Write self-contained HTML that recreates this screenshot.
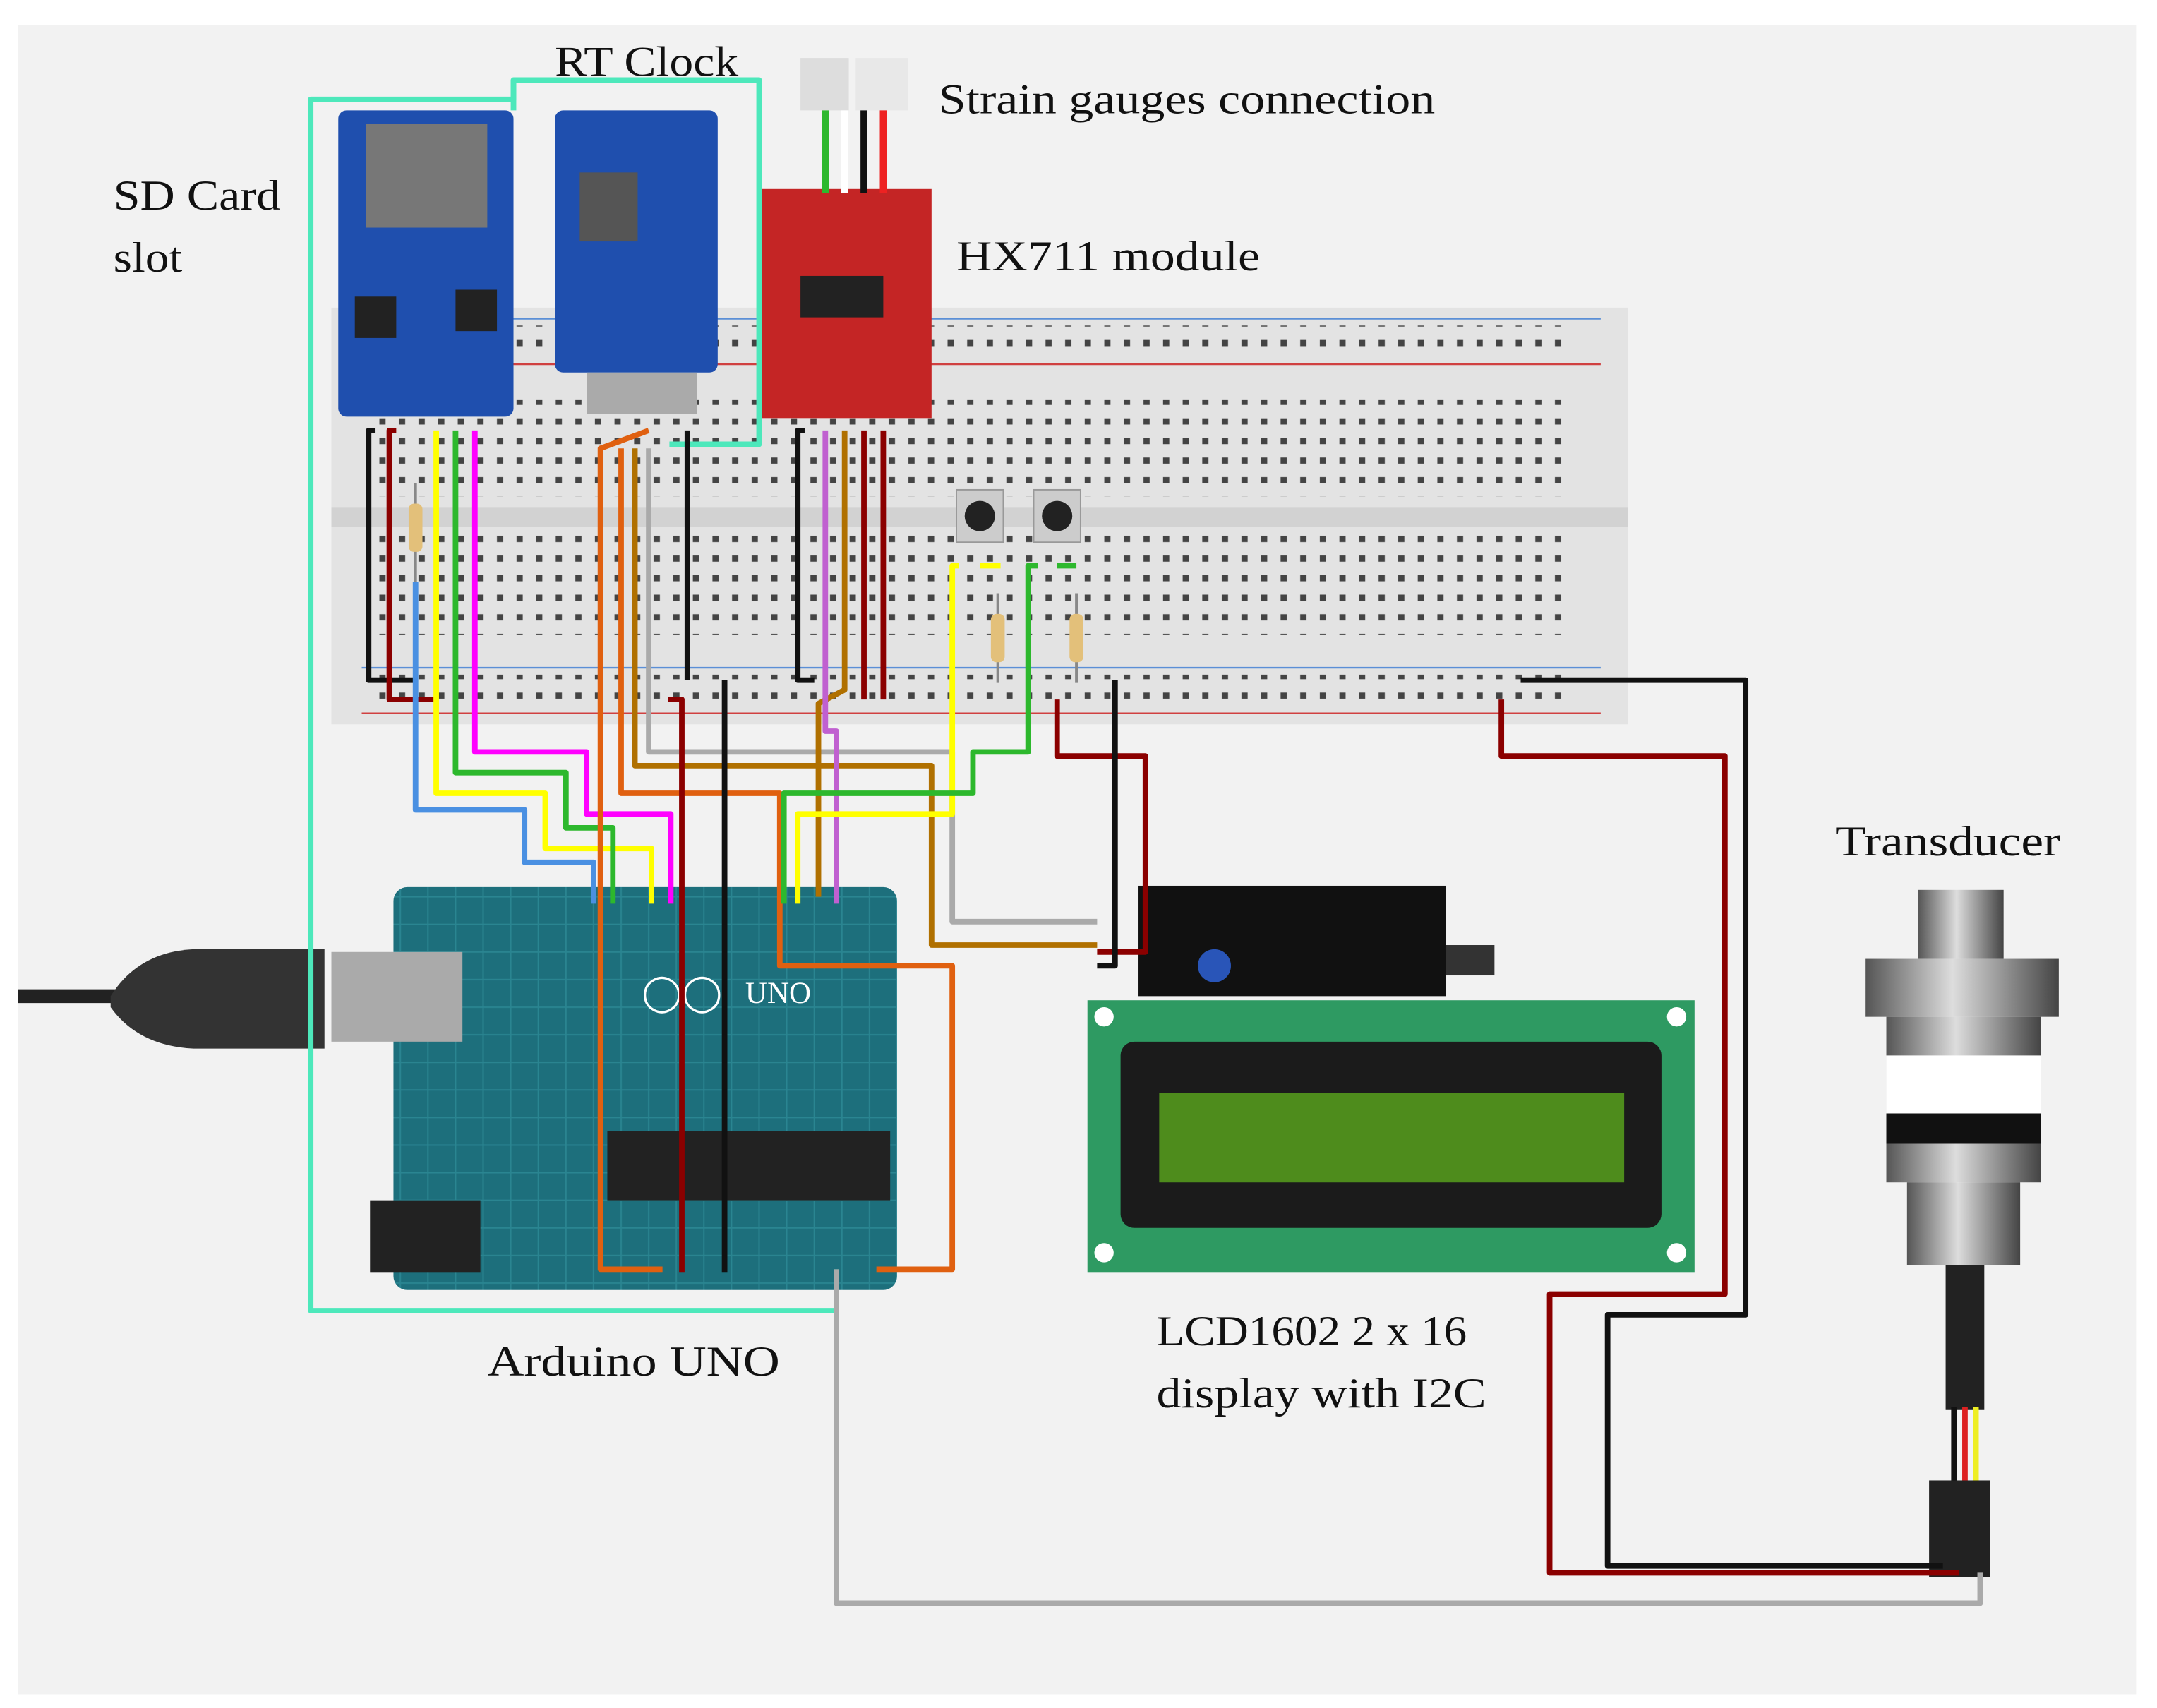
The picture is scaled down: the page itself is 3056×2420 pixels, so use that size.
<!DOCTYPE html>
<html><head><meta charset="utf-8"><style>
html,body{margin:0;padding:0;background:#fff;}
svg{display:block;}
text{font-family:"Liberation Serif",serif;fill:#111;}
</style></head><body>
<svg width="3056" height="2420" viewBox="0 0 1563 1238" xmlns="http://www.w3.org/2000/svg">
<defs>
<pattern id="holes" x="0" y="0" width="14.2" height="14.2" patternUnits="userSpaceOnUse">
<rect x="5" y="5" width="4.5" height="4.5" fill="#444"/></pattern>
<pattern id="ard" width="20" height="20" patternUnits="userSpaceOnUse">
<rect width="20" height="20" fill="#1d6f7c"/><path d="M0 10h20M10 0v20" stroke="#2a8591" stroke-width="1"/></pattern>
<linearGradient id="tr" x1="0" x2="1"><stop offset="0" stop-color="#555"/><stop offset=".45" stop-color="#ddd"/><stop offset="1" stop-color="#444"/></linearGradient>
</defs>
<rect width="1563" height="1238" fill="#fff"/>
<rect x="13" y="18" width="1535" height="1210" fill="#f2f2f2"/>

<!-- breadboard -->
<rect x="240" y="223" width="940" height="302" fill="#e3e3e3"/>
<rect x="240" y="368" width="940" height="14" fill="#d2d2d2"/>
<line x1="262" y1="231" x2="1160" y2="231" stroke="#5b8fd6" stroke-width="1.2"/>
<line x1="262" y1="264" x2="1160" y2="264" stroke="#d04040" stroke-width="1.2"/>
<line x1="262" y1="484" x2="1160" y2="484" stroke="#5b8fd6" stroke-width="1.2"/>
<line x1="262" y1="517" x2="1160" y2="517" stroke="#d04040" stroke-width="1.2"/>
<rect x="270" y="236" width="870" height="24" fill="url(#holes)"/>
<rect x="270" y="290" width="870" height="70" fill="url(#holes)"/>
<rect x="270" y="388" width="870" height="72" fill="url(#holes)"/>
<rect x="270" y="489" width="870" height="24" fill="url(#holes)"/>

<!-- buttons -->
<rect x="693" y="355" width="34" height="38" fill="#ccc" stroke="#999"/><circle cx="710" cy="374" r="11" fill="#222"/>
<rect x="749" y="355" width="34" height="38" fill="#ccc" stroke="#999"/><circle cx="766" cy="374" r="11" fill="#222"/>
<!-- resistors -->
<g stroke="#888" stroke-width="2"><line x1="301" y1="350" x2="301" y2="425"/><line x1="723" y1="430" x2="723" y2="495"/><line x1="780" y1="430" x2="780" y2="495"/></g>
<rect x="296" y="365" width="10" height="35" rx="4" fill="#e3c07a"/>
<rect x="718" y="445" width="10" height="35" rx="4" fill="#e3c07a"/>
<rect x="775" y="445" width="10" height="35" rx="4" fill="#e3c07a"/>

<!-- SD card module -->
<rect x="245" y="80" width="127" height="222" rx="6" fill="#1f4fae"/>
<rect x="265" y="90" width="88" height="75" fill="#777"/>
<rect x="330" y="210" width="30" height="30" fill="#222"/>
<rect x="257" y="215" width="30" height="30" fill="#222"/>
<!-- RTC -->
<rect x="402" y="80" width="118" height="190" rx="6" fill="#1f4fae"/>
<rect x="420" y="125" width="42" height="50" fill="#555"/>
<rect x="425" y="270" width="80" height="30" fill="#aaa"/>
<!-- HX711 -->
<rect x="552" y="137" width="123" height="166" fill="#c42525"/>
<rect x="580" y="200" width="60" height="30" fill="#222"/>
<rect x="580" y="42" width="35" height="38" fill="#ddd"/><rect x="620" y="42" width="38" height="38" fill="#e8e8e8"/>
<g stroke-width="5"><line x1="598" y1="80" x2="598" y2="140" stroke="#2db82d"/><line x1="612" y1="80" x2="612" y2="140" stroke="#fff"/><line x1="626" y1="80" x2="626" y2="140" stroke="#111"/><line x1="640" y1="80" x2="640" y2="140" stroke="#e22"/></g>

<!-- Arduino -->
<rect x="285" y="643" width="365" height="292" rx="10" fill="url(#ard)"/>
<rect x="440" y="820" width="205" height="50" fill="#222"/>
<rect x="268" y="870" width="80" height="52" fill="#222"/>
<rect x="240" y="690" width="95" height="65" fill="#aaa"/>
<line x1="13" y1="722" x2="90" y2="722" stroke="#222" stroke-width="10"/>
<path d="M80 722 Q100 690 140 688 H235 V760 H140 Q100 758 80 730 Z" fill="#333"/>
<text x="465" y="728" font-size="26" fill="#fff" style="fill:#fff">◯◯</text>
<text x="540" y="727" font-family="Liberation Sans" font-size="22" style="fill:#fff">UNO</text>

<!-- I2C module & LCD -->
<rect x="825" y="642" width="223" height="80" fill="#111"/>
<rect x="1048" y="685" width="35" height="22" fill="#333"/>
<circle cx="880" cy="700" r="12" fill="#2955b8"/>
<rect x="788" y="725" width="440" height="197" fill="#2e9a62"/>
<rect x="812" y="755" width="392" height="135" rx="10" fill="#1b1b1b"/>
<rect x="840" y="792" width="337" height="65" fill="#4e8c1c"/>
<g fill="#fff"><circle cx="800" cy="737" r="7"/><circle cx="1215" cy="737" r="7"/><circle cx="800" cy="908" r="7"/><circle cx="1215" cy="908" r="7"/></g>

<!-- Transducer -->
<rect x="1390" y="645" width="62" height="50" fill="url(#tr)"/>
<rect x="1352" y="695" width="140" height="42" fill="url(#tr)"/>
<rect x="1367" y="737" width="112" height="120" fill="url(#tr)"/>
<rect x="1367" y="765" width="112" height="42" fill="#fff"/>
<rect x="1367" y="807" width="112" height="22" fill="#111"/>
<rect x="1382" y="857" width="82" height="60" fill="url(#tr)"/>
<rect x="1410" y="917" width="28" height="105" fill="#222"/>
<g stroke-width="4"><line x1="1416" y1="1020" x2="1416" y2="1075" stroke="#111"/><line x1="1424" y1="1020" x2="1424" y2="1075" stroke="#d22"/><line x1="1432" y1="1020" x2="1432" y2="1075" stroke="#ee2"/></g>
<rect x="1398" y="1073" width="44" height="70" fill="#222"/>

<!-- wires -->
<g fill="none" stroke-width="4" stroke-linejoin="round">
<polyline stroke="#4de8bb" points="372,80 372,58 550,58 550,322 485,322"/>
<polyline stroke="#4de8bb" points="372,58 372,72 225,72 225,950 606,950 606,920"/>
<polyline stroke="#111" points="272,312 267,312 267,493 300,493"/>
<polyline stroke="#8b0000" points="287,312 282,312 282,507 316,507"/>
<polyline stroke="#ff0" points="316,312 316,575 395,575 395,615 472,615 472,655"/>
<polyline stroke="#2db82d" points="330,312 330,560 410,560 410,600 444,600 444,655"/>
<polyline stroke="#f0f" points="344,312 344,545 425,545 425,590 486,590 486,655"/>
<polyline stroke="#4a90e2" points="301,422 301,587 380,587 380,625 430,625 430,655"/>
<polyline stroke="#111" points="498,312 498,493"/>
<polyline stroke="#e06010" points="470,312 435,325 435,920 480,920"/>
<polyline stroke="#e06010" points="450,325 450,575 565,575 565,700 690,700 690,920 635,920"/>
<polyline stroke="#b07000" points="460,325 460,555 675,555 675,685 795,685"/>
<polyline stroke="#aaa" points="470,325 470,545 690,545 690,668 795,668"/>
<polyline stroke="#8b0000" points="484,507 494,507 494,922"/>
<polyline stroke="#111" points="525,493 525,922"/>
<polyline stroke="#111" points="583,312 578,312 578,493 590,493"/>
<polyline stroke="#b07000" points="612,312 612,500 593,510 593,650"/>
<polyline stroke="#c060d0" points="598,312 598,530 606,530 606,655"/>
<polyline stroke="#8b0000" points="626,312 626,507"/>
<polyline stroke="#8b0000" points="640,312 640,507"/>
<polyline stroke="#ff0" points="695,410 690,410 690,590 578,590 578,655"/>
<polyline stroke="#ff0" points="710,410 725,410"/>
<polyline stroke="#2db82d" points="752,410 745,410 745,545 705,545 705,575 568,575 568,655"/>
<polyline stroke="#2db82d" points="766,410 780,410"/>
<polyline stroke="#8b0000" points="766,507 766,548 830,548 830,690 795,690"/>
<polyline stroke="#111" points="808,493 808,700 795,700"/>
<polyline stroke="#111" points="1102,493 1265,493 1265,953 1165,953 1165,1135 1408,1135"/>
<polyline stroke="#8b0000" points="1088,507 1088,548 1250,548 1250,938 1123,938 1123,1140 1420,1140"/>
<polyline stroke="#aaa" points="606,920 606,1162 1435,1162 1435,1140"/>
</g>

<!-- labels -->
<text x="402" y="55" font-size="31" textLength="133" lengthAdjust="spacingAndGlyphs">RT Clock</text>
<text x="82" y="152" font-size="31" textLength="121" lengthAdjust="spacingAndGlyphs">SD Card</text>
<text x="82" y="197" font-size="31" textLength="50" lengthAdjust="spacingAndGlyphs">slot</text>
<text x="680" y="82" font-size="31" textLength="360" lengthAdjust="spacingAndGlyphs">Strain gauges connection</text>
<text x="693" y="196" font-size="31" textLength="220" lengthAdjust="spacingAndGlyphs">HX711 module</text>
<text x="1330" y="620" font-size="31" textLength="163" lengthAdjust="spacingAndGlyphs">Transducer</text>
<text x="353" y="997" font-size="31" textLength="212" lengthAdjust="spacingAndGlyphs">Arduino UNO</text>
<text x="838" y="975" font-size="31" textLength="225" lengthAdjust="spacingAndGlyphs">LCD1602 2 x 16</text>
<text x="838" y="1020" font-size="31" textLength="239" lengthAdjust="spacingAndGlyphs">display with I2C</text>
</svg>
</body></html>
